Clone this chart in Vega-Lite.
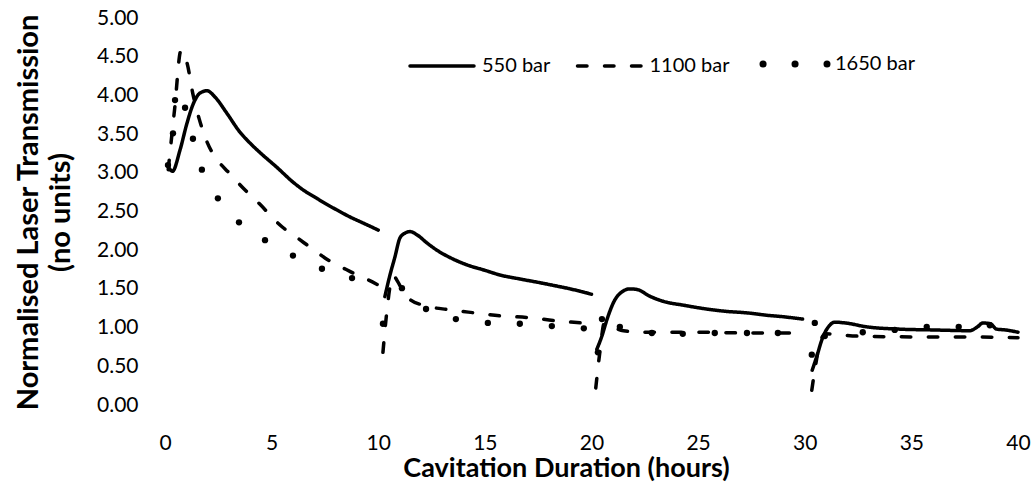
{
  "$schema": "https://vega.github.io/schema/vega-lite/v6.json",
  "width": 853,
  "height": 387,
  "autosize": {"type": "none"},
  "padding": {"left": 165, "top": 18, "right": 17, "bottom": 84},
  "background": "white",
  "config": {
    "view": {"stroke": null},
    "font": "Lato",
    "axis": {"domain": false, "grid": false, "ticks": false, "tickSize": 0, "labelColor": "black", "labelFont": "Lato", "labelFontSize": 21, "labelFlush": false, "labelOverlap": false, "titleColor": "black", "titleFont": "Lato", "titleFontWeight": "bold", "titleFontSize": 27}
  },
  "data": {"values": [
    {"s":"550 bar","g":1,"t":0.12,"v":3.1},{"s":"550 bar","g":1,"t":0.35,"v":3.02},{"s":"550 bar","g":1,"t":0.7,"v":3.29},{"s":"550 bar","g":1,"t":1.03,"v":3.64},{"s":"550 bar","g":1,"t":1.31,"v":3.88},{"s":"550 bar","g":1,"t":1.64,"v":4.03},{"s":"550 bar","g":1,"t":1.97,"v":4.06},{"s":"550 bar","g":1,"t":2.34,"v":3.98},{"s":"550 bar","g":1,"t":2.9,"v":3.77},{"s":"550 bar","g":1,"t":3.5,"v":3.53},{"s":"550 bar","g":1,"t":4.0,"v":3.38},{"s":"550 bar","g":1,"t":4.5,"v":3.25},{"s":"550 bar","g":1,"t":5.25,"v":3.07},{"s":"550 bar","g":1,"t":6.0,"v":2.88},{"s":"550 bar","g":1,"t":6.47,"v":2.78},{"s":"550 bar","g":1,"t":7.0,"v":2.69},{"s":"550 bar","g":1,"t":7.6,"v":2.59},{"s":"550 bar","g":1,"t":8.06,"v":2.52},{"s":"550 bar","g":1,"t":8.67,"v":2.43},{"s":"550 bar","g":1,"t":9.3,"v":2.35},{"s":"550 bar","g":1,"t":10.0,"v":2.26},
    {"s":"550 bar","g":2,"t":10.31,"v":1.4},{"s":"550 bar","g":2,"t":10.55,"v":1.68},{"s":"550 bar","g":2,"t":10.78,"v":1.91},{"s":"550 bar","g":2,"t":11.02,"v":2.16},{"s":"550 bar","g":2,"t":11.25,"v":2.22},{"s":"550 bar","g":2,"t":11.49,"v":2.24},{"s":"550 bar","g":2,"t":11.81,"v":2.2},{"s":"550 bar","g":2,"t":12.3,"v":2.09},{"s":"550 bar","g":2,"t":12.75,"v":2.0},{"s":"550 bar","g":2,"t":13.4,"v":1.9},{"s":"550 bar","g":2,"t":14.16,"v":1.81},{"s":"550 bar","g":2,"t":15.0,"v":1.74},{"s":"550 bar","g":2,"t":15.7,"v":1.68},{"s":"550 bar","g":2,"t":16.6,"v":1.63},{"s":"550 bar","g":2,"t":17.58,"v":1.58},{"s":"550 bar","g":2,"t":18.3,"v":1.54},{"s":"550 bar","g":2,"t":19.0,"v":1.5},{"s":"550 bar","g":2,"t":20.0,"v":1.43},
    {"s":"550 bar","g":3,"t":20.25,"v":0.72},{"s":"550 bar","g":3,"t":20.5,"v":0.9},{"s":"550 bar","g":3,"t":20.72,"v":1.1},{"s":"550 bar","g":3,"t":21.1,"v":1.36},{"s":"550 bar","g":3,"t":21.42,"v":1.46},{"s":"550 bar","g":3,"t":21.8,"v":1.5},{"s":"550 bar","g":3,"t":22.17,"v":1.49},{"s":"550 bar","g":3,"t":22.7,"v":1.41},{"s":"550 bar","g":3,"t":23.35,"v":1.34},{"s":"550 bar","g":3,"t":24.3,"v":1.29},{"s":"550 bar","g":3,"t":25.4,"v":1.24},{"s":"550 bar","g":3,"t":26.3,"v":1.21},{"s":"550 bar","g":3,"t":27.3,"v":1.19},{"s":"550 bar","g":3,"t":28.2,"v":1.16},{"s":"550 bar","g":3,"t":29.0,"v":1.14},{"s":"550 bar","g":3,"t":29.9,"v":1.11},
    {"s":"550 bar","g":4,"t":30.35,"v":0.45},{"s":"550 bar","g":4,"t":30.6,"v":0.66},{"s":"550 bar","g":4,"t":30.8,"v":0.84},{"s":"550 bar","g":4,"t":31.17,"v":1.03},{"s":"550 bar","g":4,"t":31.4,"v":1.07},{"s":"550 bar","g":4,"t":31.9,"v":1.06},{"s":"550 bar","g":4,"t":32.9,"v":1.01},{"s":"550 bar","g":4,"t":34.46,"v":0.98},{"s":"550 bar","g":4,"t":36.0,"v":0.97},{"s":"550 bar","g":4,"t":37.74,"v":0.96},{"s":"550 bar","g":4,"t":38.1,"v":1.01},{"s":"550 bar","g":4,"t":38.35,"v":1.06},{"s":"550 bar","g":4,"t":38.7,"v":1.05},{"s":"550 bar","g":4,"t":39.0,"v":0.98},{"s":"550 bar","g":4,"t":39.4,"v":0.97},{"s":"550 bar","g":4,"t":40.0,"v":0.94},
    {"s":"1100 bar","g":1,"t":0.15,"v":3.04},{"s":"1100 bar","g":1,"t":0.45,"v":3.82},{"s":"1100 bar","g":1,"t":0.75,"v":4.58},{"s":"1100 bar","g":1,"t":0.85,"v":4.56},{"s":"1100 bar","g":1,"t":1.05,"v":4.4},{"s":"1100 bar","g":1,"t":1.3,"v":4.03},{"s":"1100 bar","g":1,"t":1.6,"v":3.7},{"s":"1100 bar","g":1,"t":2.0,"v":3.38},{"s":"1100 bar","g":1,"t":2.5,"v":3.15},{"s":"1100 bar","g":1,"t":3.0,"v":3.0},{"s":"1100 bar","g":1,"t":3.5,"v":2.85},{"s":"1100 bar","g":1,"t":4.0,"v":2.71},{"s":"1100 bar","g":1,"t":4.5,"v":2.58},{"s":"1100 bar","g":1,"t":5.0,"v":2.43},{"s":"1100 bar","g":1,"t":5.5,"v":2.3},{"s":"1100 bar","g":1,"t":6.0,"v":2.2},{"s":"1100 bar","g":1,"t":6.5,"v":2.1},{"s":"1100 bar","g":1,"t":7.0,"v":2.0},{"s":"1100 bar","g":1,"t":7.5,"v":1.9},{"s":"1100 bar","g":1,"t":8.0,"v":1.82},{"s":"1100 bar","g":1,"t":8.5,"v":1.75},{"s":"1100 bar","g":1,"t":9.0,"v":1.68},{"s":"1100 bar","g":1,"t":9.5,"v":1.62},{"s":"1100 bar","g":1,"t":10.0,"v":1.55},
    {"s":"1100 bar","g":2,"t":10.22,"v":0.68},{"s":"1100 bar","g":2,"t":10.4,"v":1.2},{"s":"1100 bar","g":2,"t":10.6,"v":1.6},{"s":"1100 bar","g":2,"t":10.72,"v":1.67},{"s":"1100 bar","g":2,"t":10.9,"v":1.6},{"s":"1100 bar","g":2,"t":11.2,"v":1.45},{"s":"1100 bar","g":2,"t":11.5,"v":1.36},{"s":"1100 bar","g":2,"t":12.1,"v":1.29},{"s":"1100 bar","g":2,"t":13.36,"v":1.23},{"s":"1100 bar","g":2,"t":14.53,"v":1.19},{"s":"1100 bar","g":2,"t":15.8,"v":1.15},{"s":"1100 bar","g":2,"t":17.02,"v":1.13},{"s":"1100 bar","g":2,"t":18.28,"v":1.09},{"s":"1100 bar","g":2,"t":19.55,"v":1.06},{"s":"1100 bar","g":2,"t":19.95,"v":1.05},
    {"s":"1100 bar","g":3,"t":20.2,"v":0.22},{"s":"1100 bar","g":3,"t":20.4,"v":0.7},{"s":"1100 bar","g":3,"t":20.6,"v":1.06},{"s":"1100 bar","g":3,"t":20.9,"v":1.02},{"s":"1100 bar","g":3,"t":21.5,"v":0.96},{"s":"1100 bar","g":3,"t":22.5,"v":0.94},{"s":"1100 bar","g":3,"t":25.0,"v":0.94},{"s":"1100 bar","g":3,"t":27.5,"v":0.93},{"s":"1100 bar","g":3,"t":30.0,"v":0.93},
    {"s":"1100 bar","g":4,"t":30.33,"v":0.19},{"s":"1100 bar","g":4,"t":30.5,"v":0.5},{"s":"1100 bar","g":4,"t":30.75,"v":0.84},{"s":"1100 bar","g":4,"t":31.0,"v":0.92},{"s":"1100 bar","g":4,"t":31.5,"v":0.91},{"s":"1100 bar","g":4,"t":32.5,"v":0.89},{"s":"1100 bar","g":4,"t":35.0,"v":0.88},{"s":"1100 bar","g":4,"t":37.5,"v":0.88},{"s":"1100 bar","g":4,"t":40.0,"v":0.87},
    {"s":"1650 bar","g":1,"t":0.14,"v":3.1},{"s":"1650 bar","g":1,"t":0.375,"v":3.51},{"s":"1650 bar","g":1,"t":0.47,"v":3.94},{"s":"1650 bar","g":1,"t":0.94,"v":3.84},{"s":"1650 bar","g":1,"t":1.31,"v":3.44},{"s":"1650 bar","g":1,"t":1.73,"v":3.04},{"s":"1650 bar","g":1,"t":2.48,"v":2.67},{"s":"1650 bar","g":1,"t":3.47,"v":2.36},{"s":"1650 bar","g":1,"t":4.69,"v":2.13},{"s":"1650 bar","g":1,"t":6.0,"v":1.93},{"s":"1650 bar","g":1,"t":7.36,"v":1.76},{"s":"1650 bar","g":1,"t":8.77,"v":1.64},
    {"s":"1650 bar","g":2,"t":10.22,"v":1.05},{"s":"1650 bar","g":2,"t":11.11,"v":1.51},{"s":"1650 bar","g":2,"t":12.24,"v":1.24},{"s":"1650 bar","g":2,"t":13.64,"v":1.11},{"s":"1650 bar","g":2,"t":15.14,"v":1.06},{"s":"1650 bar","g":2,"t":16.64,"v":1.05},{"s":"1650 bar","g":2,"t":18.14,"v":1.02},{"s":"1650 bar","g":2,"t":19.64,"v":0.99},
    {"s":"1650 bar","g":3,"t":20.3,"v":0.68},{"s":"1650 bar","g":3,"t":20.49,"v":1.11},{"s":"1650 bar","g":3,"t":21.33,"v":1.01},{"s":"1650 bar","g":3,"t":22.83,"v":0.93},{"s":"1650 bar","g":3,"t":24.28,"v":0.92},{"s":"1650 bar","g":3,"t":25.78,"v":0.93},{"s":"1650 bar","g":3,"t":27.29,"v":0.93},{"s":"1650 bar","g":3,"t":28.74,"v":0.93},{"s":"1650 bar","g":3,"t":30.47,"v":1.06},
    {"s":"1650 bar","g":4,"t":30.33,"v":0.65},{"s":"1650 bar","g":4,"t":30.94,"v":0.89},{"s":"1650 bar","g":4,"t":32.72,"v":0.94},{"s":"1650 bar","g":4,"t":34.22,"v":0.97},{"s":"1650 bar","g":4,"t":35.72,"v":1.01},{"s":"1650 bar","g":4,"t":37.22,"v":1.01},{"s":"1650 bar","g":4,"t":38.68,"v":1.03}
  ]},
  "encoding": {
    "x": {"field": "t", "type": "quantitative", "scale": {"domain": [0, 40], "nice": false, "zero": false},
      "axis": {"title": "Cavitation Duration (hours)", "values": [0,5,10,15,20,25,30,35,40], "format": "d", "labelPadding": 44, "labelBaseline": "alphabetic", "titleX": 401, "titleY": 71, "titleBaseline": "alphabetic", "titleAlign": "center", "titleAnchor": null}},
    "y": {"field": "v", "type": "quantitative", "scale": {"domain": [0, 5], "nice": false},
      "axis": {"title": ["Normalised Laser Transmission", "(no units)"], "values": [0,0.5,1,1.5,2,2.5,3,3.5,4,4.5,5], "format": ".2f", "labelPadding": 27, "titleX": -128, "titleY": 194, "titleAngle": 270, "titleBaseline": "alphabetic", "titleAlign": "center", "titleLineHeight": 32, "titleFontSize": 29, "titleAnchor": null}}
  },
  "layer": [
    {
      "transform": [{"filter": "datum.s !== '1650 bar'"}],
      "mark": {"type": "line", "color": "black", "strokeWidth": 3.5, "strokeCap": "round", "strokeJoin": "round", "interpolate": "monotone"},
      "encoding": {
        "strokeDash": {"field": "s", "type": "nominal",
          "scale": {"domain": ["550 bar", "1100 bar", "1650 bar"], "range": [[1, 0], [9.5, 17.5], [0.1, 31.9]]},
          "legend": {"title": null, "orient": "none", "legendX": 243, "legendY": 12, "direction": "horizontal", "padding": 0,
            "symbolType": "stroke", "symbolSize": 4096, "symbolStrokeColor": "black", "symbolStrokeWidth": 3.5,
            "labelFont": "Lato", "labelFontSize": 20, "labelColor": "black", "labelOffset": 6, "columnPadding": 19.5,
            "encode": {"symbols": {"update": {"size": {"value": 4096}, "strokeCap": {"value": "round"}, "strokeWidth": {"signal": "(datum.value === '1650 bar' ? 7 : 3.5)"}}}}}},
        "detail": {"field": "g", "type": "nominal"}
      }
    },
    {
      "transform": [{"filter": "datum.s === '1650 bar'"}],
      "mark": {"type": "circle", "color": "black", "size": 40, "opacity": 1}
    },
    {
      "data": {"values": [{"edge": "bottom"}]},
      "mark": {"type": "rect", "color": "black", "opacity": 1},
      "encoding": {
        "x": {"datum": 0, "type": "quantitative",
          "axis": {"title": "Cavitation Duration (hours)", "values": [0,5,10,15,20,25,30,35,40], "format": "d", "labelPadding": 44, "labelBaseline": "alphabetic", "titleX": 401, "titleY": 71, "titleBaseline": "alphabetic", "titleAlign": "center", "titleAnchor": null}},
        "x2": {"datum": 40.07},
        "y": {"datum": -0.019, "type": "quantitative",
          "axis": {"title": ["Normalised Laser Transmission", "(no units)"], "values": [0,0.5,1,1.5,2,2.5,3,3.5,4,4.5,5], "format": ".2f", "labelPadding": 27, "titleX": -128, "titleY": 194, "titleAngle": 270, "titleBaseline": "alphabetic", "titleAlign": "center", "titleLineHeight": 32, "titleFontSize": 29, "titleAnchor": null}},
        "y2": {"datum": 0.019}
      }
    },
    {
      "data": {"values": [{"edge": "left"}]},
      "mark": {"type": "rect", "color": "black", "opacity": 1},
      "encoding": {
        "x": {"datum": -0.07, "type": "quantitative",
          "axis": {"title": "Cavitation Duration (hours)", "values": [0,5,10,15,20,25,30,35,40], "format": "d", "labelPadding": 44, "labelBaseline": "alphabetic", "titleX": 401, "titleY": 71, "titleBaseline": "alphabetic", "titleAlign": "center", "titleAnchor": null}},
        "x2": {"datum": 0.07},
        "y": {"datum": -0.019, "type": "quantitative",
          "axis": {"title": ["Normalised Laser Transmission", "(no units)"], "values": [0,0.5,1,1.5,2,2.5,3,3.5,4,4.5,5], "format": ".2f", "labelPadding": 27, "titleX": -128, "titleY": 194, "titleAngle": 270, "titleBaseline": "alphabetic", "titleAlign": "center", "titleLineHeight": 32, "titleFontSize": 29, "titleAnchor": null}},
        "y2": {"datum": 5.0}
      }
    }
  ]
}
